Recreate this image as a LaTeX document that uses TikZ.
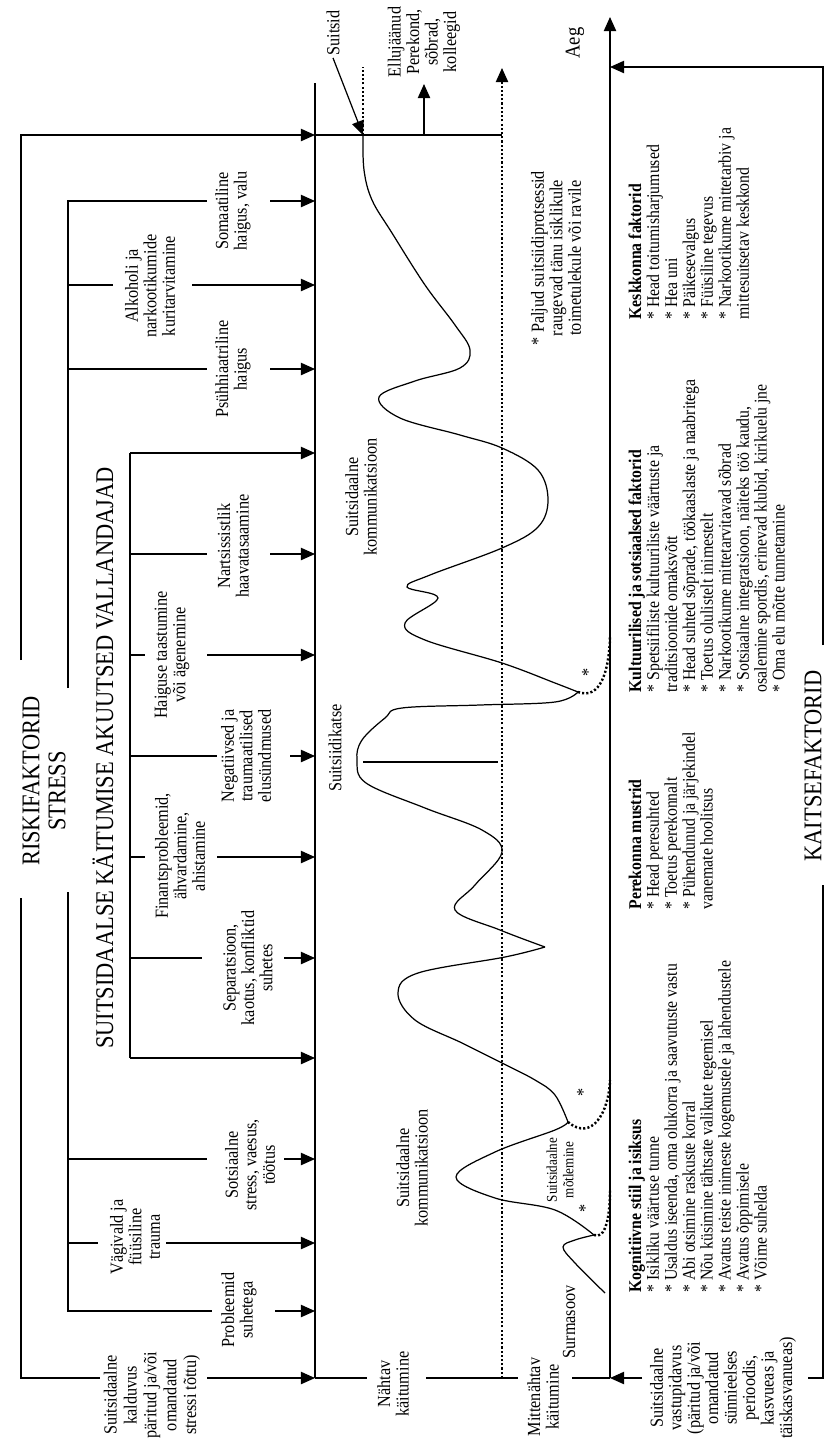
\documentclass[tikz,border=0pt]{standalone}
\usepackage{fontspec}
\setmainfont{Liberation Serif}[FakeStretch=0.88]
\usetikzlibrary{arrows.meta}
\tikzset{
  >={Triangle[length=8pt,width=7pt]},
  lbl/.style={rotate=90, align=center, inner sep=1pt, font=\fontsize{10.5}{10.5}\selectfont},
  bigtitle/.style={rotate=90, inner sep=0pt, font=\fontsize{14.5}{16}\selectfont},
  lst/.style={rotate=90, align=left, anchor=north west, inner sep=0pt, font=\fontsize{10.2}{10.2}\selectfont},
  arr/.style={->, line width=0.7pt},
  dotline/.style={line width=1.4pt, dash pattern=on 1.2pt off 1.2pt},
  proc/.style={line width=0.7pt, smooth, tension=0.6},
}

\begin{document}
\begin{tikzpicture}[x=0.02cm, y=-0.02cm, line width=0.7pt]
\useasboundingbox (0,0) rectangle (826,1438);
\coordinate (axtop) at (315,83);
\coordinate (axbot) at (315,1378);
\coordinate (rtop) at (610,17);
\coordinate (rbot) at (610,1378);
\coordinate (suitsidpt) at (363,135);
% time axes
\draw (axtop) -- (axbot);
\draw[->] (rbot) -- (rtop);
\draw[dotline] (502,1378) -- (502,80);
\draw[->] (502,84) -- (502,68);
\node[lbl, font=\fontsize{12}{12}\selectfont] (aeg) at (575,43) {Aeg};
% risk factor brackets
\draw[arr] (21,660) |- (315,135);
\draw (315,135) -- (502,135);
\draw (21,898) |- (100,1378);
\draw[arr] (207,1378) -- (axbot);
\draw (68,688) |- (207,201);
\draw (68,892) |- (212,1311);
\draw (68,285) -- (113,285);
\draw (68,369) -- (207,369);
\draw (68,1159) -- (207,1159);
\draw (68,1243) -- (98,1243);
\draw[arr] (130,453) -- (315,453);
\draw (130,453) -- (130,1058);
\draw[arr] (130,1058) -- (315,1058);
\draw (130,554) -- (207,554);
\draw (130,655) -- (145,655);
\draw (130,756) -- (217,756);
\draw (130,857) -- (145,857);
\draw (130,958) -- (202,958);
\foreach \xs/\y in {270/201,192/285,270/369,270/554,207/655,290/756,217/857,284/958,284/1159,166/1243,275/1311}
  \draw[arr] (\xs,\y) -- (315,\y);
\node[bigtitle] (risk) at (31,781) {RISKIFAKTORID};
\node[bigtitle] (stress) at (57,791) {STRESS};
\node[bigtitle] (vall) at (103,758) {SUITSIDAALSE KÄITUMISE AKUUTSED VALLANDAJAD};
\foreach \x/\y/\txt in {233/211/{Somaatiline\\haigus, valu},
    150/286/{Alkoholi ja\\narkootikumide\\kuritarvitamine},
    233/369/{Psühhiaatriline\\haigus},
    233/546/{Nartsissistlik\\haavatasaamine},
    172/655/{Haiguse taastumine\\või ägenemine},
    246/756/{Negatiivsed ja\\traumaatilised\\elusündmused},
    180/856/{Finantsprobleemid,\\ähvardamine,\\ahistamine},
    248/968/{Separatsioon,\\kaotus, konfliktid\\suhetes},
    250/1165/{Sotsiaalne\\stress, vaesus,\\töötus},
    135/1237/{Vägivald ja\\füüsiline\\trauma},
    239/1310/{Probleemid\\suhetega}}
  \node[lbl] (lab\y) at (\x,\y) {\txt};
\node[lbl, font=\fontsize{10.5}{11.3}\selectfont] (kald) at (152,1395) {Suitsidaalne\\kalduvus\\päritud ja/või\\omandatud\\stressi tõttu)};
% base line
\draw (315,1378) -- (367,1378);
\draw (426,1378) -- (518,1378);
\draw[arr] (642,1378) -- (rbot);
\draw (rbot) -- (572,1378);
\node[lbl] (nahtav) at (393,1384) {Nähtav\\käitumine};
\node[lbl] (mitte) at (543,1397) {Mittenähtav\\käitumine};
% protective factors
\draw[arr] (823,645) |- (610,67);
\draw (823,885) |- (808,1378);
\node[bigtitle] (kaitse) at (813,766) {KAITSEFAKTORID};
\node[lbl] (vastu) at (723,1388) {Suitsidaalne\\vastupidavus\\(päritud ja/või\\omandatud\\sünnieelses\\perioodis,\\kasvueas ja\\täiskasvanueas)};
% suicide and survivors
\draw[arr] (424,135) -- (424,84);
\draw[dotline] (suitsidpt) -- ++(0,-68);
\node[lbl] (suitsid) at (333,33) {Suitsid};
\draw[arr] (suitsid.west) -- (suitsidpt);
\node[lbl] (ellu) at (424,42) {Ellujäänud\\Perekond,\\sõbrad,\\kolleegid};
% suicidal process
\draw[proc] plot coordinates {(363,135) (364,170) (372,200) (392,233) (425,285) (455,325) (470,350) (460,368) (415,381) (379,397) (400,418) (460,435) (502,448) (538,470) (548,500) (538,527) (502,548) (430,575) (407,587) (438,598) (405,623) (425,640) (502,663) (555,683) (578,692)};
\draw[proc] plot coordinates {(578,692) (555,702) (480,705) (402,708) (385,718) (362,740) (357,760) (366,783) (425,808) (482,830) (502,852) (475,885) (455,910) (500,930) (545,947)};
\draw[proc] plot coordinates {(545,947) (505,957) (418,973) (398,993) (415,1020) (462,1043) (502,1063) (535,1080) (555,1095) (568,1122)};
\draw[proc] plot coordinates {(568,1122) (555,1130) (495,1152) (456,1177) (495,1198) (555,1210) (594,1235)};
\draw[proc] plot coordinates {(594,1235) (575,1240) (563,1247) (575,1263) (605,1293)};
\draw[dotline] (578,692) .. controls (600,700) and (609,672) .. (610,637);
\draw[dotline] (568,1122) .. controls (592,1142) and (609,1112) .. (610,1080);
\draw[dotline] (594,1235) .. controls (606,1240) and (610,1215) .. (610,1190);
\draw (363,762) -- (498,762);
\foreach \x/\y in {588/672, 583/1092, 585/1208}
  \node[lbl] (ast\y) at (\x,\y) {*};
\node[lbl] (komm1) at (361,497) {Suitsidaalne\\kommunikatsioon};
\node[lbl] (komm2) at (412,1168) {Suitsidaalne\\kommunikatsioon};
\node[lbl] (katse) at (335,748) {Suitsiidikatse};
\node[lbl, font=\fontsize{8.5}{9.5}\selectfont] (motl) at (560,1170) {Suitsidaalne\\mõtlemine};
\node[lbl] (surm) at (569,1322) {Surmasoov};
\node[lbl] (paljud) at (556,258) {* Paljud suitsiidiprotsessid\\raugevad tänu isiklikule\\toimetulekule või ravile};
% lists of protective factors
\node[lst] (kogn) at (628,1293) {\textbf{Kognitiivne stiil ja isiksus}\\{*} Isikliku väärtuse tunne\\{*} Usaldus iseenda, oma olukorra ja saavutuste vastu\\{*} Abi otsimine raskuste korral\\{*} Nõu küsimine tähtsate valikute tegemisel\\{*} Avatus teiste inimeste kogemustele ja lahendustele\\{*} Avatus õppimisele\\{*} Võime suhelda};
\node[lst] (pere) at (628,910) {\textbf{Perekonna mustrid}\\{*} Head peresuhted\\{*} Toetus perekonnalt\\{*} Pühendunud ja järjekindel\\vanemate hoolitsus};
\node[lst] (kult) at (628,693) {\textbf{Kultuurilised ja sotsiaalsed faktorid}\\{*} Spetsiifiliste kultuuriliste väärtuste ja\\traditsioonide omaksvõtt\\{*} Head suhted sõprade, töökaaslaste ja naabritega\\{*} Toetus olulistelt inimestelt\\{*} Narkootikume mittetarvitavad sõbrad\\{*} Sotsiaalne integratsioon, näiteks töö kaudu,\\osalemine spordis, erinevad klubid, kirikuelu jne\\{*} Oma elu mõtte tunnetamine};
\node[lst] (kesk) at (628,320) {\textbf{Keskkonna faktorid}\\{*} Head toitumisharjumused\\{*} Hea uni\\{*} Päikesevalgus\\{*} Füüsiline tegevus\\{*} Narkootikume mittetarbiv ja\\mittesuitsetav keskkond};
\end{tikzpicture}
\end{document}
